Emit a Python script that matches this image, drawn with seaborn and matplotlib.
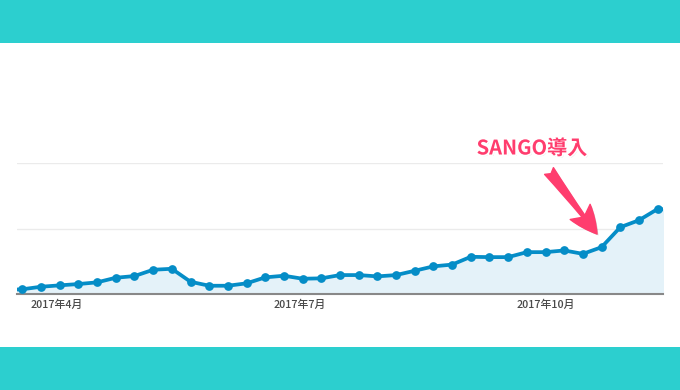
import matplotlib
matplotlib.use("Agg")
import matplotlib.pyplot as plt
import matplotlib.patheffects as pe
from matplotlib.patches import Rectangle
import seaborn as sns
import pandas as pd

# weekly sessions (GA style)
week_start = pd.date_range("2017-03-12", periods=37, freq="7D")
sessions = [60, 72, 111, 132, 152, 178, 248, 274, 370, 385,
            187, 126, 126, 163, 254, 279, 233, 239, 289, 289,
            269, 289, 355, 422, 449, 568, 563, 563, 639, 639,
            665, 613, 715, 1020, 1126, 1298, 1280]
tick_dates = pd.to_datetime(["2017-04-01", "2017-07-01", "2017-10-01"])
tick_labels = ["2017年4月", "2017年7月", "2017年10月"]
grid_values = [0, 1000, 2000]

sns.set_style("white")
plt.rcParams["font.family"] = ["Noto Sans CJK JP", "DejaVu Sans"]

df = pd.DataFrame({"week": week_start, "sessions": sessions})

fig = plt.figure(figsize=(6.8, 3.9), dpi=100)
fig.patch.set_facecolor("white")
teal = "#2ccfcf"
fig.patches.append(Rectangle((0, 347 / 390), 1, 43 / 390, transform=fig.transFigure,
                             facecolor=teal, edgecolor="none", zorder=0))
fig.patches.append(Rectangle((0, 0), 1, 43 / 390, transform=fig.transFigure,
                             facecolor=teal, edgecolor="none", zorder=0))

ax = fig.add_axes([17 / 680, 96 / 390, 646 / 680, 131 / 390])
ax.patch.set_alpha(0)

blue = "#058dc7"
ax.fill_between(df["week"], df["sessions"], 0, color="#e4f2f9", zorder=1)
sns.lineplot(data=df, x="week", y="sessions", ax=ax, color=blue, linewidth=2.7,
             marker="o", markersize=6.3, markeredgewidth=0, zorder=3)

ax.set_xlim(pd.Timestamp("2017-03-17"), pd.Timestamp("2017-11-14"))
ax.set_ylim(0, 2000)
ax.set_yticks(grid_values)
ax.yaxis.grid(True, color="#ebebeb", linewidth=1)
ax.tick_params(axis="y", left=False, labelleft=False)
ax.set_xticks(tick_dates)
ax.set_xticklabels(tick_labels, fontsize=7.8, color="#4a4a4a", fontweight="medium")
ax.tick_params(axis="x", length=0, pad=4)
ax.set_xlabel("")
ax.set_ylabel("")
for side in ["top", "left", "right"]:
    ax.spines[side].set_visible(False)
ax.spines["bottom"].set_color("#888888")
ax.spines["bottom"].set_linewidth(1.5)

pink = "#ff3d6e"
fig.text(532 / 680, 242 / 390, "SANGO導入", ha="center", va="center",
         fontsize=14.5, fontweight="bold", color=pink,
         path_effects=[pe.withSimplePatchShadow(offset=(1, -1), shadow_rgbFace="#999999", alpha=0.35),
                       pe.withStroke(linewidth=2.5, foreground="white")])
ax.annotate("", xy=(597, 156), xycoords="figure pixels",
            xytext=(549, 219), textcoords="figure pixels",
            arrowprops=dict(arrowstyle="fancy,head_length=1.0,head_width=0.9,tail_width=0.4",
                            color=pink, mutation_scale=20, shrinkA=0, shrinkB=0,
                            path_effects=[pe.withSimplePatchShadow(offset=(1, -1), alpha=0.25)]),
            annotation_clip=False)

fig.savefig("out.png", dpi=100)
